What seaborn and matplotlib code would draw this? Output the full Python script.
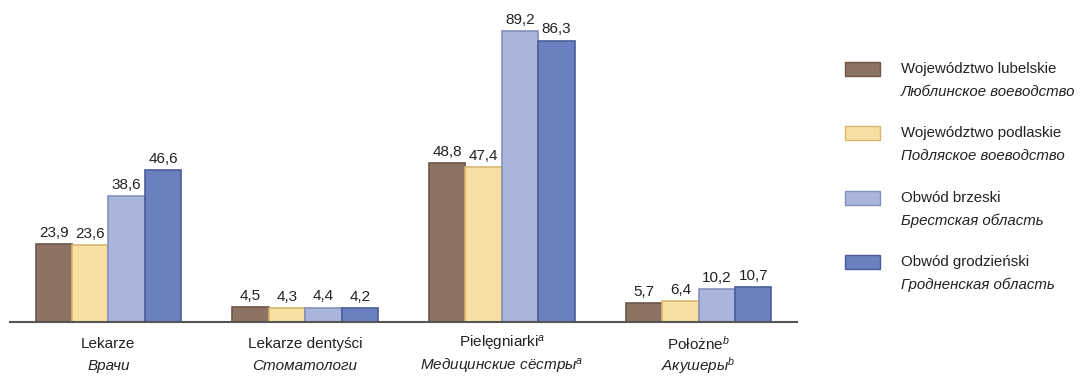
import matplotlib
matplotlib.use("Agg")
import matplotlib.pyplot as plt
import matplotlib.transforms as mtrans
import seaborn as sns
import pandas as pd
from matplotlib.patches import Rectangle

categories_pl = ["Lekarze", "Lekarze dentyści", "Pielęgniarki$^{a}$", "Położne$^{b}$"]
categories_ru = ["Врачи", "Стоматологи", "Медицинские сёстры$^{a}$", "Акушеры$^{b}$"]
series_pl = ["Województwo lubelskie", "Województwo podlaskie", "Obwód brzeski", "Obwód grodzieński"]
series_ru = ["Люблинское воеводство", "Подляское воеводство", "Брестская область", "Гродненская область"]
lubelskie = [23.9, 4.5, 48.8, 5.7]
podlaskie = [23.6, 4.3, 47.4, 6.4]
brzeski = [38.6, 4.4, 89.2, 10.2]
grodzienski = [46.6, 4.2, 86.3, 10.7]

colors = ["#8c7363", "#f8e0a2", "#aab5dd", "#6a80bf"]
edges = ["#6b5647", "#d8b76e", "#8390bb", "#4a5d99"]

sns.set_theme(style="white")
plt.rcParams['font.family'] = ['Liberation Sans', 'DejaVu Sans']
plt.rcParams['mathtext.fontset'] = 'custom'
plt.rcParams['mathtext.it'] = 'Liberation Sans:italic'
plt.rcParams['mathtext.rm'] = 'Liberation Sans'

rows = []
for s, vals in zip(series_pl, [lubelskie, podlaskie, brzeski, grodzienski]):
    for c, v in zip(categories_pl, vals):
        rows.append({"cat": c, "series": s, "value": v})
df = pd.DataFrame(rows)

fig = plt.figure(figsize=(10.81, 3.77), dpi=100)
ax = fig.add_axes([10/1081, 1-322/377, (797-10)/1081, 309.7/377])
sns.barplot(data=df, x="cat", y="value", hue="series", order=categories_pl,
            hue_order=series_pl, palette=colors, width=0.74, gap=0,
            legend=False, ax=ax, saturation=1)

for i, cont in enumerate(ax.containers):
    for p in cont:
        p.set_edgecolor(edges[i])
        p.set_linewidth(1.2)
    labels = [f"{p.get_height():.1f}".replace(".", ",") for p in cont]
    ax.bar_label(cont, labels=labels, padding=3, fontsize=11, color="#222222")

ax.set_xlim(-0.5, 3.5)
ax.set_ylim(0, 95)
for s in ["top", "right", "left"]:
    ax.spines[s].set_visible(False)
ax.spines["bottom"].set_color("#555555")
ax.spines["bottom"].set_linewidth(1.5)
ax.set_yticks([])
ax.set_xticks([])
ax.set_xlabel("")
ax.set_ylabel("")

trans = mtrans.blended_transform_factory(ax.transData, fig.transFigure)
for i, (pl, ru) in enumerate(zip(categories_pl, categories_ru)):
    ax.text(i, 1-344/377, pl, transform=trans, ha="center", va="center",
            fontsize=11, color="#222222")
    ax.text(i, 1-366/377, ru, transform=trans, ha="center", va="center",
            fontsize=11, color="#222222", style="italic")

# legend
ys = [69, 133, 198, 262]
for i, y in enumerate(ys):
    fig.patches.append(Rectangle((845/1081, 1-(y+7)/377), 35/1081, 14/377,
                                 transform=fig.transFigure, facecolor=colors[i],
                                 edgecolor=edges[i], linewidth=1.0))
    fig.text(901/1081, 1-y/377, series_pl[i], ha="left", va="center",
             fontsize=10.8, color="#222222")
    fig.text(901/1081, 1-(y+23)/377, series_ru[i], ha="left", va="center",
             fontsize=10.8, color="#222222", style="italic")

fig.savefig("out.png", dpi=100)
